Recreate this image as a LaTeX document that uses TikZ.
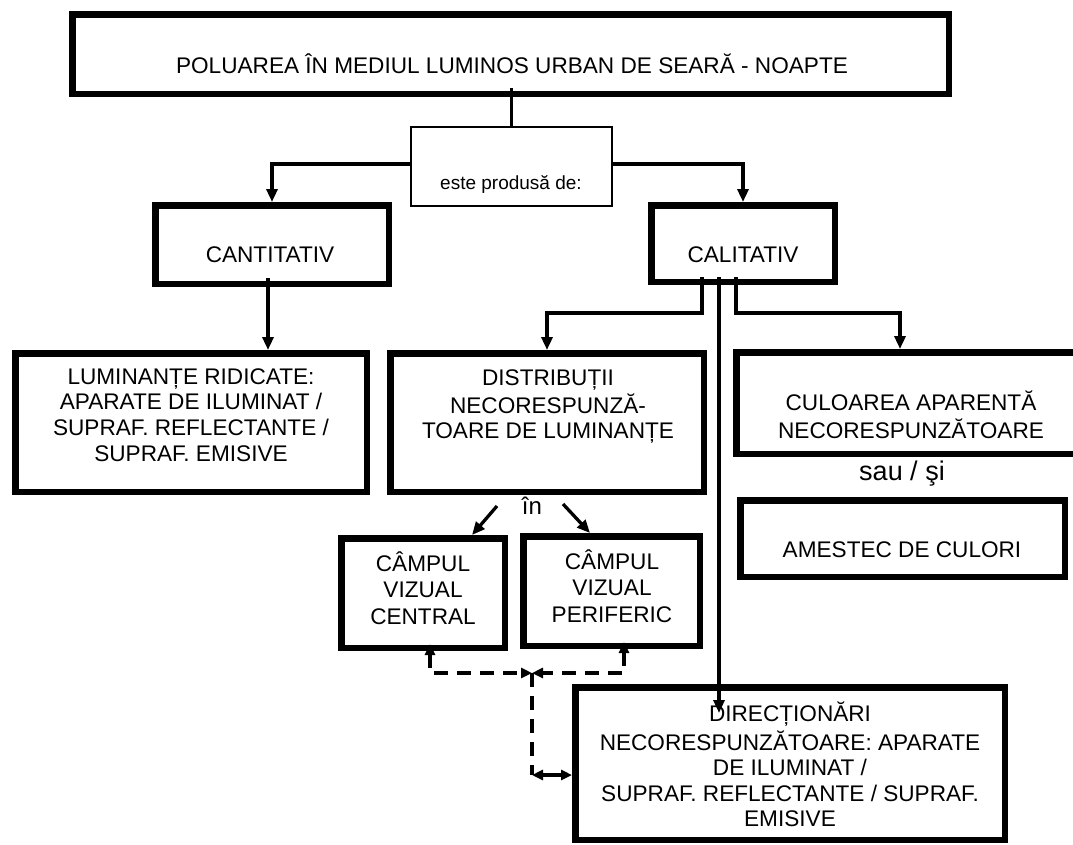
\documentclass[tikz,border=0pt]{standalone}
\usepackage{fontspec}
\setmainfont{Liberation Sans}
\usetikzlibrary{arrows.meta,calc}

\begin{document}
\begin{tikzpicture}[x=1pt,y=-1pt,
  boxnode/.style={draw, rectangle, line width=6.5pt, inner sep=0pt},
  thinbox/.style={draw, rectangle, line width=2.2pt, inner sep=0pt},
  txt/.style={inner sep=0pt, align=center, font=\fontsize{22.6}{#1}\selectfont},
  txt/.default=25.5,
  conn/.style={line width=3.3pt},
  arr/.style={-{Triangle[length=13pt,width=11pt]}},
  darrs/.style={{Triangle[length=11pt,width=10pt]}-{Triangle[length=11pt,width=10pt]}},
  dashline/.style={line width=3.3pt, dash pattern=on 14pt off 9pt}]

\useasboundingbox (0,0) rectangle (1073,844);
\clip (0,0) rectangle (1073,844);

% boxes
\node[boxnode, minimum width=876.5pt, minimum height=79.5pt] (top)  at (510.5,54)   {};
\node[thinbox, minimum width=201pt,   minimum height=79pt]   (este) at (511.5,166.5) {};
\node[boxnode, minimum width=233.5pt, minimum height=78.5pt] (cant) at (272,244.5)  {};
\node[boxnode, minimum width=183.5pt, minimum height=76.5pt] (cal)  at (743,243.5)  {};
\node[boxnode, minimum width=351.5pt, minimum height=138.5pt] (lum) at (191,422.5)  {};
\node[boxnode, minimum width=313.5pt, minimum height=138.5pt] (dist) at (547,422.5) {};
\node[boxnode, minimum width=347.5pt, minimum height=101.5pt] (cul) at (910,403)    {};
\node[boxnode, minimum width=324.5pt, minimum height=76.5pt] (ame)  at (902.5,538.5) {};
\node[boxnode, minimum width=163.5pt, minimum height=109.5pt] (cen) at (423,593)    {};
\node[boxnode, minimum width=176.5pt, minimum height=109.5pt] (per) at (611.5,591)  {};
\node[boxnode, minimum width=429.5pt, minimum height=152.5pt] (dir) at (790,763.5)  {};

% texts
\node[txt, anchor=base] (ttop) at (512,73) {POLUAREA ÎN MEDIUL LUMINOS URBAN DE SEARĂ - NOAPTE};
\node[txt, anchor=base, font=\fontsize{19}{22}\selectfont] (teste) at (511,189) {este produsă de:};
\node[txt, anchor=base] (tcant) at (270,262) {CANTITATIV};
\node[txt, anchor=base] (tcal) at (743,262) {CALITATIV};
\node[txt=25.6, anchor=north] (tlum) at (191,366.1)
  {\strut LUMINANȚE RIDICATE:\\\strut APARATE DE ILUMINAT /\\\strut SUPRAF. REFLECTANTE /\\\strut SUPRAF. EMISIVE};
\node[txt=25.5, anchor=north] (tdist) at (548,367.15)
  {\strut DISTRIBUȚII\\\strut NECORESPUNZĂ-\\\strut TOARE DE LUMINANȚE};
\node[txt=23.5, anchor=north] (tcul) at (911,390.55)
  {\strut CULOAREA APARENTĂ\\\strut NECORESPUNZĂTOARE};
\node[txt, anchor=base, font=\fontsize{27}{30}\selectfont] (tsau) at (902,480) {sau / şi};
\node[txt, anchor=base] (tame) at (902,557) {AMESTEC DE CULORI};
\node[txt, anchor=base, font=\fontsize{24}{28}\selectfont] (tin) at (532,514) {în};
\node[txt=26.5, anchor=north] (tcen) at (423,551.45)
  {\strut CÂMPUL\\\strut VIZUAL\\\strut CENTRAL};
\node[txt=26.5, anchor=north] (tper) at (612,549.45)
  {\strut CÂMPUL\\\strut VIZUAL\\\strut PERIFERIC};
\node[txt=25.5, anchor=north] (tdir) at (790,702.15)
  {\strut DIRECȚIONĂRI\\\strut NECORESPUNZĂTOARE: APARATE\\\strut DE ILUMINAT /\\\strut SUPRAF. REFLECTANTE / SUPRAF.\\\strut EMISIVE};

% connectors from the title down
\draw[conn] ($(este.north |- top.south)+(0,-9)$) -- (este.north);
\draw[conn,arr] ([yshift=2.5pt]este.west) -| (cant.north);
\draw[conn,arr] ([yshift=2.5pt]este.east) -| (cal.north);

\coordinate (c1) at ($(cant.south)+(-4,-9)$);
\draw[conn,arr] (c1) -- (c1 |- lum.north);

\coordinate (cl) at ($(cal.south)+(-41,-8)$);
\coordinate (cm) at ($(cal.south)+(-24,-8)$);
\coordinate (cr) at ($(cal.south)+(-7,-8)$);
\coordinate (dirin) at ($(dir.north)+(0,29)$);
\draw[conn,arr] (cl) -- ++(0,36) -| (dist.north);
\draw[conn,arr] (cr) -- ++(0,36) -| ($(cul.north)+(-10,0)$);
\draw[conn,arr] (cm) -- (cm |- dirin);

% "in" arrows to the two visual fields
\draw[conn,arr] ($(tin.base)+(-35,-8)$) -- ($(cen.north)+(49,0)$);
\draw[conn,arr] ($(tin.base)+(31,-10)$) -- ($(per.north)+(-21.5,0)$);

% dashed links between the visual fields and the directions box
\coordinate (j) at (532,673);
\coordinate (dj) at (532,775);
\draw[dashline,darrs] ($(cen.south)+(7,-7)$) |- (j);
\draw[dashline,darrs] ($(per.south)+(12.5,-7)$) |- (j);
\draw[dashline] (j) -- (dj);
\draw[conn,darrs] (dj) -- (dir.west |- dj);
\end{tikzpicture}
\end{document}
